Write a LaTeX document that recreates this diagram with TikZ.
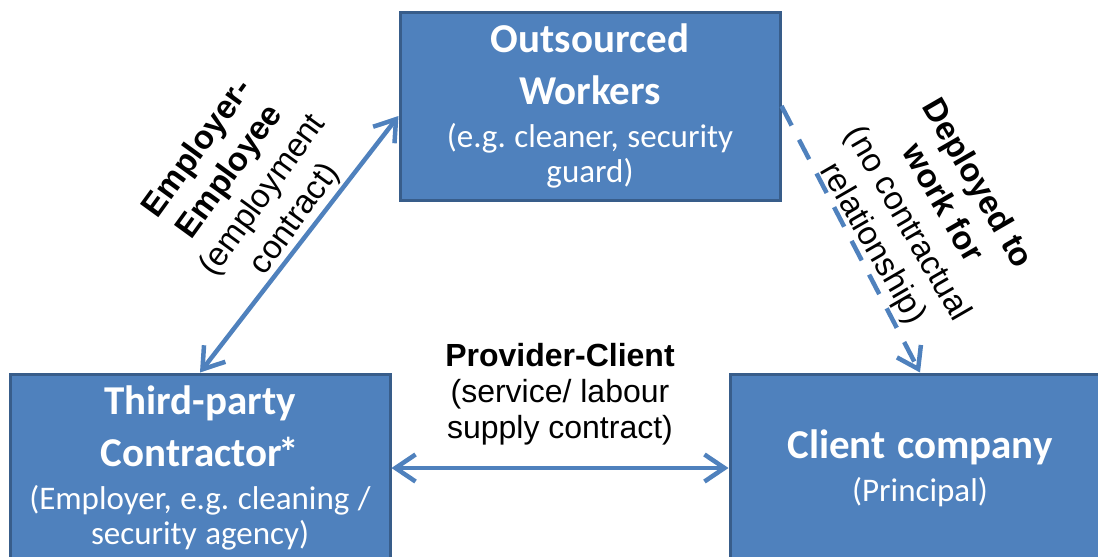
\documentclass[tikz,border=0pt]{standalone}
\usepackage{fontspec}
\setmainfont{Carlito}
\newfontfamily\arialfont{Liberation Sans}
\usetikzlibrary{arrows.meta}
\setlength{\parindent}{0pt}

\definecolor{boxblue}{HTML}{4F81BD}
\definecolor{boxedge}{HTML}{385D8A}

\newcommand{\headfont}{\bfseries\fontsize{41}{52}\selectfont
    \spaceskip=0.28em\xspaceskip=0.28em\relax}
\newcommand{\notefont}{\fontsize{33}{35}\selectfont
    \spaceskip=0.26em\xspaceskip=0.26em\relax}

\tikzset{
  party/.style={rectangle, draw=boxedge, fill=boxblue, line width=3pt,
    text=white, align=center, text width=374pt,
    minimum width=380pt, minimum height=188pt, inner sep=0pt},
  barb/.tip={Straight Barb[length=20pt,width=27pt]},
  link/.style={draw=boxblue, line width=4.5pt, line cap=round},
  tag/.style={align=center, inner sep=0pt, font=\arialfont\fontsize{32}{36}\selectfont},
  tilted/.style={tag, font=\arialfont\fontsize{33}{40}\selectfont},
}

\begin{document}
\begin{tikzpicture}[x=1pt,y=-1pt]
    \useasboundingbox (0,0) rectangle (1098,557);
    \node[party] (workers) at (590,106)
        {{\headfont Outsourced\\Workers\par}\vspace{8pt}%
         {\notefont (e.g. cleaner, security\\guard)\par}};
    \node[party] (contractor) at (200,468)
        {{\headfont Third-party\\Contractor\kern-3pt*\par}\vspace{8pt}%
         {\notefont (Employer, e.g. cleaning /\\security agency)\par}};
    \node[party] (client) at (920,468)
        {{\headfont Client company\par}\vspace{8pt}%
         {\notefont (Principal)\par}};
    % relationships
    \draw[link, barb-barb] (contractor.north) -- ([yshift=-10pt]workers.west);
    \draw[link, barb-barb] (contractor.east) -- (client.west);
    \draw[link, line cap=butt, dash pattern=on 22pt off 16pt, -barb]
        (workers.east) -- (client.north);
    \node[tilted, rotate=54] (employ) at (247,184)
        {\textbf{Employer-}\\\textbf{Employee}\\(employment\\contract)};
    \node[tilted, rotate=-60] (deploy) at (924,214)
        {\textbf{Deployed to}\\\textbf{work for}\\(no contractual\\relationship)};
    \node[tag] (supply) at (560,394)
        {\textbf{Provider-Client}\\(service/ labour\\supply contract)};
\end{tikzpicture}
\end{document}
